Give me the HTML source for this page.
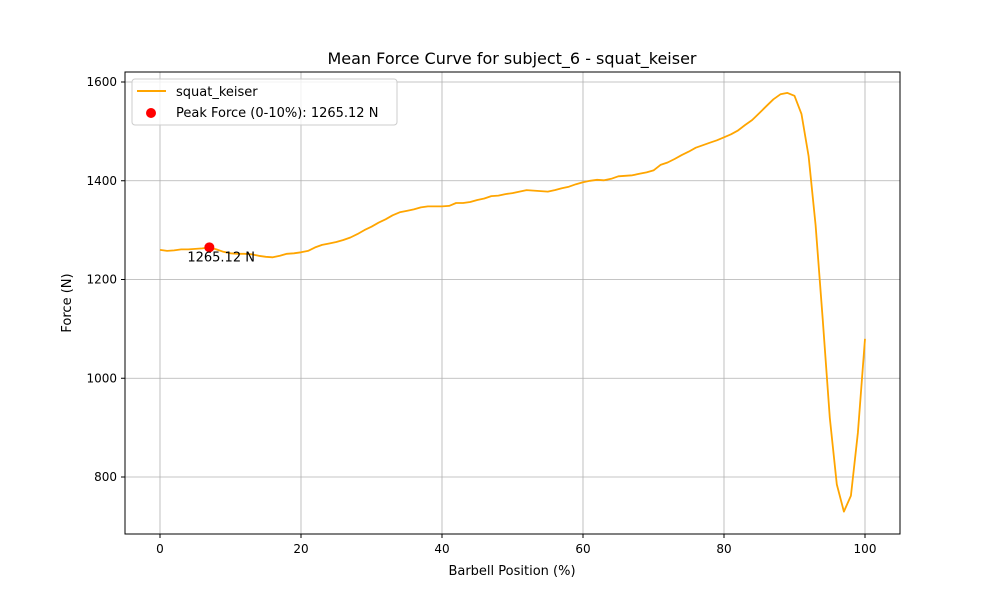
<!DOCTYPE html>
<html><head><meta charset="utf-8"><style>
body{margin:0;background:#fff;}
svg text{font-family:"DejaVu Sans","Liberation Sans",sans-serif;}
</style></head><body>
<svg id="chart" width="1000" height="600" viewBox="0 0 1000 600" xmlns="http://www.w3.org/2000/svg">
<rect width="1000" height="600" fill="#fff"/>
<g id="grid"></g>
<g id="ticks"></g>
<g id="series"></g>
<rect x="125" y="72" width="775" height="462" fill="none" stroke="#000" stroke-width="1"/>
<text x="512" y="64" font-size="16" text-anchor="middle">Mean Force Curve for subject_6 - squat_keiser</text>
<text x="512" y="575" font-size="13" text-anchor="middle">Barbell Position (%)</text>
<text x="71" y="303" font-size="13" text-anchor="middle" transform="rotate(-90 71 303)">Force (N)</text>
<g>
<rect x="132" y="79" width="265" height="46" rx="3" fill="#fff" fill-opacity="0.8" stroke="#ccc"/>
<line x1="137" y1="91" x2="166" y2="91" stroke="#ffa500" stroke-width="2"/>
<text x="176" y="96" font-size="13">squat_keiser</text>
<circle cx="151" cy="113" r="5" fill="#ff0000"/>
<text x="176" y="117" font-size="13">Peak Force (0-10%): 1265.12 N</text>
</g>
</svg>
<script>
const positions = Array.from({length:101},(_,i)=>i);
const forces = [1260,1258,1259,1261,1261,1262,1263,1265,1261,1256,1253,1252,1252,1251,1248,1246,1245,1248,1252,1253,
1255,1258,1265,1270,1273,1276,1280,1285,1292,1300,1307,1315,1322,1330,1336,1339,1342,1346,1348,1348,
1348,1349,1355,1355,1357,1361,1364,1369,1370,1373,1375,1378,1381,1380,1379,1378,1381,1385,1388,1393,
1397,1400,1402,1401,1404,1409,1410,1411,1414,1417,1421,1432,1437,1444,1452,1459,1467,1472,1477,1482,
1488,1494,1502,1513,1523,1537,1551,1565,1575,1578,1572,1535,1450,1310,1120,920,785,730,762,890,1080];
const xTicks = [0,20,40,60,80,100];
const yTicks = [800,1000,1200,1400,1600];
const peakX = 7, peakY = 1265.12;
const peakLabel = "1265.12 N";

const NS="http://www.w3.org/2000/svg";
const xs = v => 160 + v*7.05;
const ys = v => 82 + (1600 - v)*0.49375;
function mk(tag, attrs, parent){const e=document.createElementNS(NS,tag);for(const k in attrs)e.setAttribute(k,attrs[k]);parent.appendChild(e);return e;}
const grid=document.getElementById('grid'), ticks=document.getElementById('ticks'), series=document.getElementById('series');
xTicks.forEach(t=>{
  const x=xs(t);
  const g=mk('line',{x1:x,x2:x,y1:72,y2:534,stroke:'#b0b0b0','stroke-width':0.8},grid);
  
  
  mk('line',{x1:x,x2:x,y1:534,y2:538,stroke:'#000'},ticks);
  const tx=mk('text',{x:x,y:553,'font-size':12,'text-anchor':'middle'},ticks);
  tx.textContent=t;
  
  
});
yTicks.forEach(t=>{
  const y=ys(t);
  const g=mk('line',{x1:125,x2:900,y1:y,y2:y,stroke:'#b0b0b0','stroke-width':0.8},grid);
  
  
  mk('line',{x1:121,x2:125,y1:y,y2:y,stroke:'#000'},ticks);
  const tx=mk('text',{x:117,y:y+4,'font-size':12,'text-anchor':'end'},ticks);
  tx.textContent=t;
  
  
});
const pts=positions.map((p,i)=>xs(p).toFixed(1)+','+ys(forces[i]).toFixed(1)).join(' ');
const line=mk('polyline',{points:pts,fill:'none',stroke:'#ffa500','stroke-width':1.8,'stroke-linejoin':'round'},series);


const pk=mk('circle',{cx:xs(peakX),cy:ys(peakY),r:5,fill:'#ff0000'},series);


const pl=mk('text',{x:xs(peakX)-22,y:ys(peakY)+14,'font-size':13},series);
pl.textContent=peakLabel;


</script>
</body></html>
